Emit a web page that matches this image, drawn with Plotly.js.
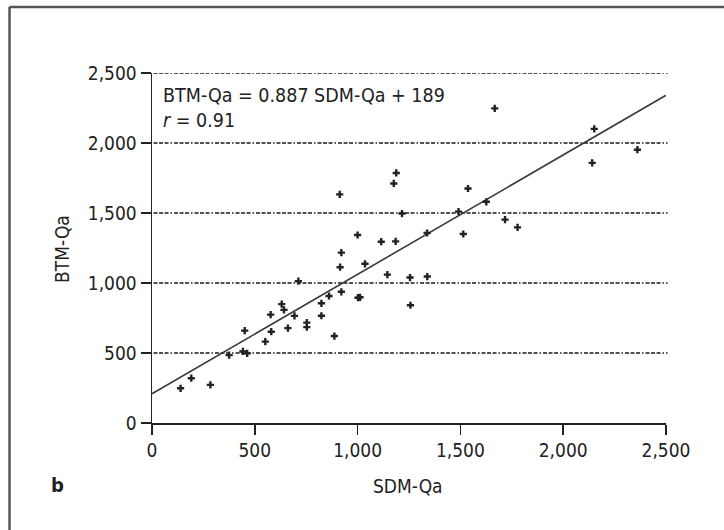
<!DOCTYPE html>
<html>
<head>
<meta charset="utf-8">
<script src="https://cdn.plot.ly/plotly-3.0.1.min.js"></script>
<style>
html,body{margin:0;padding:0;background:#fff;}
#chart{width:724px;height:530px;}
</style>
</head>
<body>
<div id="chart"></div>
<script>
// SDM-Qa (x) and BTM-Qa (y)
var sdmQa = [139, 191, 284, 375, 442, 463, 451, 551, 577, 580, 631, 642, 661, 693, 712, 753, 753, 824, 824, 861, 887,
             913, 921, 915, 921, 1000, 1002, 1012, 1036, 1115, 1145, 1176, 1188, 1185, 1216, 1255, 1257, 1338, 1339,
             1491, 1514, 1537, 1626, 1667, 1717, 1778, 2141, 2151, 2361];
var btmQa = [248, 320, 272, 485, 511, 497, 660, 581, 774, 652, 849, 808, 678, 765, 1013, 717, 685, 855, 766, 907, 621,
             1633, 1217, 1113, 937, 1343, 895, 898, 1137, 1295, 1060, 1711, 1786, 1297, 1496, 1039, 841, 1357, 1046,
             1510, 1350, 1675, 1580, 2247, 1453, 1397, 1858, 2101, 1952];
// regression line as drawn
var fitX = [0, 2500];
var fitY = [209, 2341];
var xTicks = [0, 500, 1000, 1500, 2000, 2500];
var xTickText = ['0', '500', '1,000', '1,500', '2,000', '2,500'];
var yTicks = [0, 500, 1000, 1500, 2000, 2500];
var yTickText = ['0', '500', '1,000', '1,500', '2,000', '2,500'];
var gridLevels = [500, 1000, 1500, 2000, 2500];

var FONT = 'Liberation Sans Narrow, DejaVu Sans Condensed, Liberation Sans, sans-serif';
var TXT = '#222';
var DASH = '4px,1.5px,4px,1.5px,4px,2px,1.5px,2px';

var traces = [
  {x: fitX, y: fitY, mode: 'lines', type: 'scatter',
   line: {color: '#3a3a3a', width: 1.6}, hoverinfo: 'skip', showlegend: false, cliponaxis: false},
  {x: sdmQa, y: btmQa, mode: 'markers', type: 'scatter',
   marker: {symbol: 'cross', size: 6, color: '#222', line: {width: 0}}, showlegend: false, cliponaxis: false}
];

var shapes = [
  {type: 'line', xref: 'paper', yref: 'paper', x0: -0.2772, x1: -0.2772, y0: -0.31, y1: 1.1888,
   line: {color: '#555', width: 2.5}},
  {type: 'line', xref: 'paper', yref: 'paper', x0: -0.2772, x1: 1.12, y0: 1.1888, y1: 1.1888,
   line: {color: '#555', width: 2.5}}
];
gridLevels.forEach(function (g) {
  shapes.push({type: 'line', xref: 'paper', yref: 'y', x0: 0.003, x1: 1.003, y0: g, y1: g, layer: 'below',
               line: {color: '#1a1a1a', width: 1.3, dash: DASH}});
});

var layout = {
  width: 724, height: 530,
  margin: {l: 152.4, r: 57.8, t: 72.7, b: 106.7, pad: 0},
  paper_bgcolor: '#fff', plot_bgcolor: '#fff',
  showlegend: false,
  font: {family: FONT, color: TXT, size: 19},
  xaxis: {
    range: [0, 2500], fixedrange: true,
    tickvals: xTicks, ticktext: xTickText,
    showgrid: false, zeroline: false,
    showline: true, linecolor: '#222', linewidth: 1.5,
    ticks: 'outside', ticklen: 10, tickwidth: 1.5, tickcolor: '#222',
    tickfont: {family: FONT, size: 19, color: TXT}
  },
  yaxis: {
    range: [0, 2500], fixedrange: true,
    tickvals: yTicks, ticktext: yTickText,
    showgrid: false, zeroline: false,
    showline: true, linecolor: '#222', linewidth: 1.5,
    ticks: 'outside', ticklen: 10, tickwidth: 1.5, tickcolor: '#222',
    tickfont: {family: FONT, size: 19, color: TXT}
  },
  annotations: [
    {xref: 'paper', yref: 'paper', x: 0.0179, y: 0.9355, xanchor: 'left', yanchor: 'middle',
     text: 'BTM-Qa = 0.887 SDM-Qa + 189', showarrow: false, font: {family: FONT, size: 19.5, color: TXT}},
    {xref: 'paper', yref: 'paper', x: 0.0179, y: 0.863, xanchor: 'left', yanchor: 'middle',
     text: '<i>r</i> = 0.91', showarrow: false, font: {family: FONT, size: 19.5, color: TXT}},
    {xref: 'paper', yref: 'paper', x: 0.4986, y: -0.181, xanchor: 'center', yanchor: 'middle',
     text: 'SDM-Qa', showarrow: false, font: {family: FONT, size: 19, color: TXT}},
    {xref: 'paper', yref: 'paper', x: -0.1754, y: 0.497, xanchor: 'center', yanchor: 'middle',
     text: 'BTM-Qa', textangle: -90, showarrow: false, font: {family: FONT, size: 19, color: TXT}},
    {xref: 'paper', yref: 'paper', x: -0.184, y: -0.176, xanchor: 'center', yanchor: 'middle',
     text: '<b>b</b>', showarrow: false, font: {family: FONT, size: 20, color: TXT}}
  ],
  shapes: shapes
};

Plotly.newPlot('chart', traces, layout, {displayModeBar: false, staticPlot: true});
</script>
</body>
</html>
